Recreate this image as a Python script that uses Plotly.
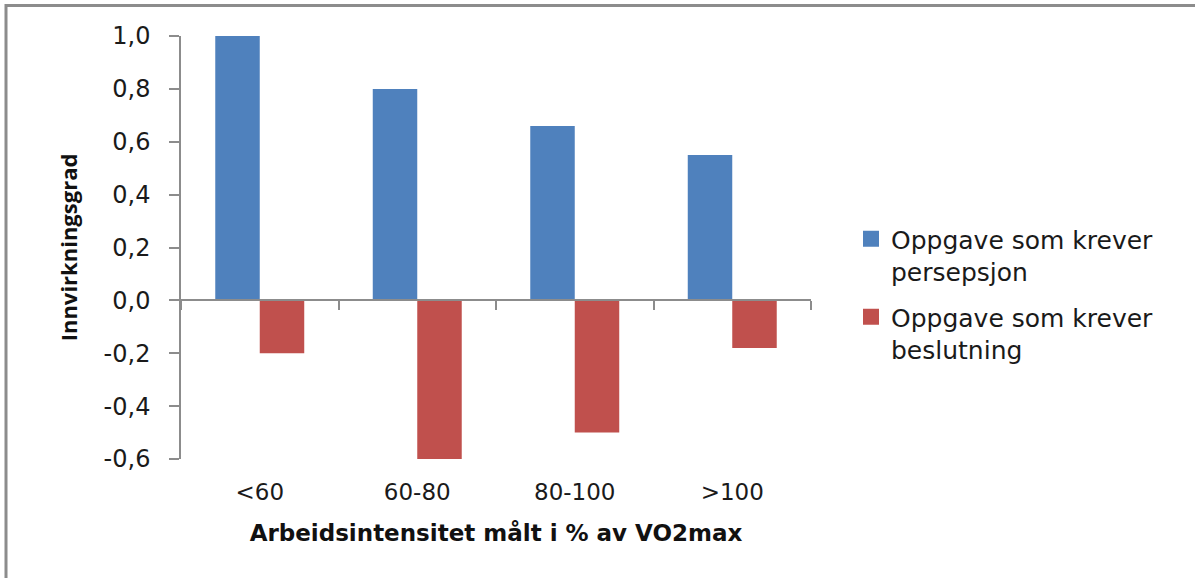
import plotly.graph_objects as go

# Category labels and series values
categories = ["<60", "60-80", "80-100", ">100"]
perception = [1.0, 0.8, 0.66, 0.55]
decision = [-0.2, -0.6, -0.5, -0.18]
series_names = ["Oppgave som krever<br>persepsjon", "Oppgave som krever<br>beslutning"]

y_tickvals = [-0.6, -0.4, -0.2, 0.0, 0.2, 0.4, 0.6, 0.8, 1.0]
y_ticktext = ["-0,6", "-0,4", "-0,2", "0,0", "0,2", "0,4", "0,6", "0,8", "1,0"]

BLUE = "#4F81BD"
RED = "#C0504D"
AXIS_GREY = "#8C8C8C"
FONT = "DejaVu Sans"
TITLE_FONT = "Open Sans"

W, H = 1195, 578
ML, MR, MT, MB = 181, 384, 36, 119
y_min, y_max = -0.6, 1.0

fig = go.Figure()

fig.add_trace(go.Bar(x=categories, y=perception, marker=dict(color=BLUE, line=dict(width=0)),
                     showlegend=False, hoverinfo="skip"))
fig.add_trace(go.Bar(x=categories, y=decision, marker=dict(color=RED, line=dict(width=0)),
                     showlegend=False, hoverinfo="skip"))

# Legend entries with square swatches
for i, (name, col) in enumerate(zip(series_names, [BLUE, RED])):
    fig.add_trace(go.Scatter(x=[None], y=[None], mode="markers", name=name,
                             legendgroup=f"g{i}",
                             marker=dict(symbol="square", size=16, color=col)))

# Helper trace so the zero-line axis gets drawn
fig.add_trace(go.Scatter(x=[], y=[], xaxis="x2", showlegend=False, hoverinfo="skip"))

n = len(categories)
zero_frac = (0 - y_min) / (y_max - y_min)

plot_w = W - ML - MR
plot_h = H - MT - MB


def px_to_paper_x(px):
    return (px - ML) / plot_w


def px_to_paper_y(py):
    return 1 + (MT - py) / plot_h


fig.update_layout(
    width=W, height=H,
    margin=dict(l=ML, r=MR, t=MT, b=MB, pad=0),
    paper_bgcolor="white", plot_bgcolor="white",
    barmode="group", bargap=0.435, bargroupgap=0,
    font=dict(family=FONT, color="#1a1a1a"),
    xaxis=dict(
        type="category", range=[-0.5, n - 0.5],
        showline=False, showgrid=False, zeroline=False, ticks="",
        tickfont=dict(size=23, family=FONT, color="#1a1a1a"),
        ticklabelstandoff=17,
        title=dict(text="<b>Arbeidsintensitet målt i % av VO2max</b>",
                   font=dict(size=23, family=FONT, color="#111"), standoff=20),
        fixedrange=True,
    ),
    xaxis2=dict(
        overlaying="x", anchor="free", position=zero_frac,
        type="linear", range=[-0.5, n - 0.5],
        tickvals=[i - 0.5 for i in range(n + 1)],
        showticklabels=False, ticks="outside", ticklen=9, tickwidth=1.5, tickcolor=AXIS_GREY,
        showline=True, linecolor=AXIS_GREY, linewidth=1.5,
        showgrid=False, zeroline=False, fixedrange=True,
    ),
    yaxis=dict(
        range=[y_min, y_max], tickvals=y_tickvals, ticktext=y_ticktext,
        showline=True, linecolor=AXIS_GREY, linewidth=1.5,
        ticks="outside", ticklen=10, tickwidth=1.5, tickcolor=AXIS_GREY,
        showgrid=False, zeroline=False,
        tickfont=dict(size=24, family=FONT, color="#1a1a1a"),
        ticklabelstandoff=14,
        title=dict(text="<b>Innvirkningsgrad</b>",
                   font=dict(size=22, family=TITLE_FONT, color="#111"), standoff=20),
        fixedrange=True,
    ),
    legend=dict(
        x=px_to_paper_x(851), y=px_to_paper_y(216), xanchor="left", yanchor="top",
        font=dict(size=25, family=FONT, color="#1a1a1a"),
        valign="top", tracegroupgap=10, itemwidth=30,
        bgcolor="rgba(0,0,0,0)",
    ),
    shapes=[
        dict(type="rect", xref="paper", yref="paper",
             x0=px_to_paper_x(6), x1=px_to_paper_x(W + 20),
             y0=px_to_paper_y(H + 20), y1=px_to_paper_y(5.5),
             line=dict(color=AXIS_GREY, width=3), fillcolor="rgba(0,0,0,0)", layer="below"),
    ],
)

fig.write_html("out.html")
